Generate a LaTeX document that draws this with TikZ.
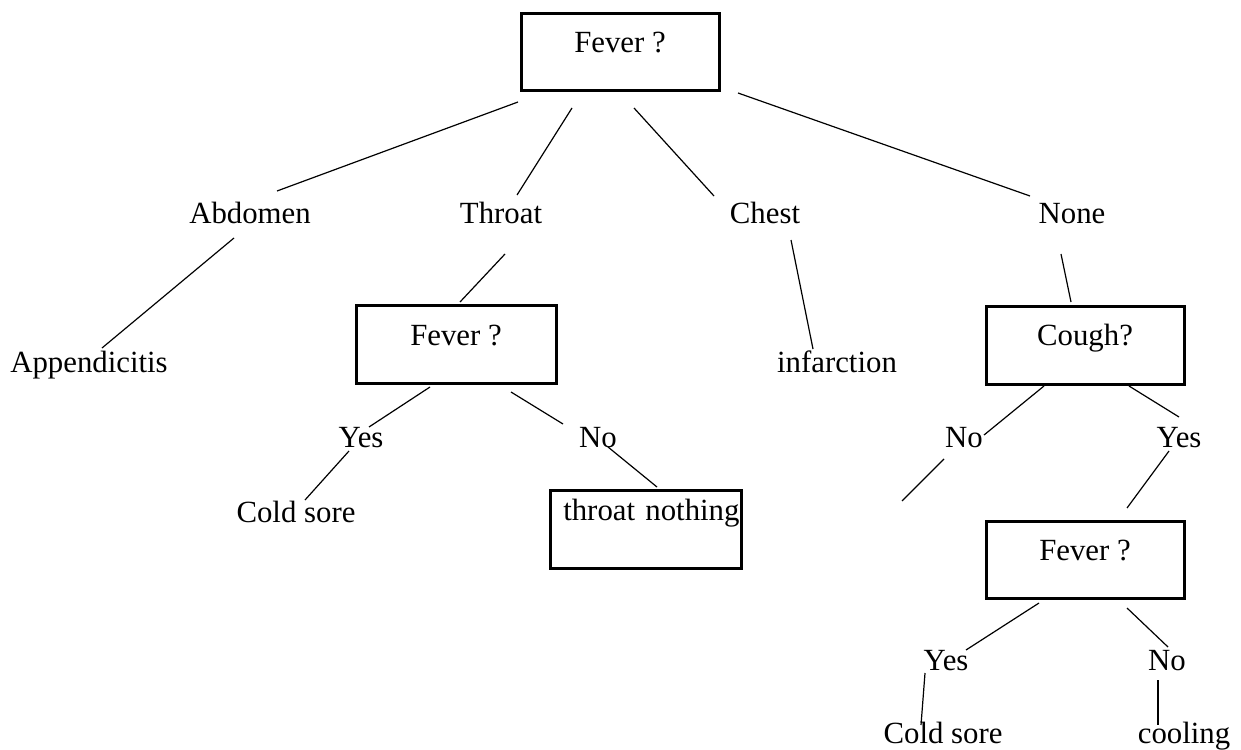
\documentclass[tikz,border=0pt]{standalone}
\usepackage{fontspec}
\setmainfont{Liberation Serif}
\begin{document}
\begin{tikzpicture}[x=0.5pt,y=-0.5pt,
  every node/.style={font=\fontsize{15.4}{18}\selectfont, inner sep=0pt},
  lbl/.style={anchor=base},
  qbox/.style={draw, line width=1.5pt, anchor=base, minimum width=99pt, text height=19.5pt, text depth=19pt},
  conn/.style={line width=0.6pt}]
\path[use as bounding box] (0,0) rectangle (1241,749);
% nodes
\node[qbox] (q1) at (620,53) {Fever ?};
\node[lbl] (abd) at (250,223) {Abdomen};
\node[lbl] (thr) at (501,223) {Throat};
\node[lbl] (che) at (765,223) {Chest};
\node[lbl] (non) at (1072,223) {None};
\node[lbl] (app) at (89,372) {Appendicitis};
\node[qbox, minimum width=100pt, text height=20pt] (q2) at (456,345) {Fever ?};
\node[lbl] (y2) at (361,447) {Yes};
\node[lbl] (n2) at (598,447) {No};
\node[lbl] (cs1) at (296,522) {Cold sore};
\node[qbox, minimum width=0pt, text width=94pt, align=right, inner xsep=0.75pt, text height=15pt, text depth=24pt] (tn) at (645.5,520) {throat nothing};
\node[lbl] (inf) at (837,372) {infarction};
\node[qbox, text depth=19.5pt] (q3) at (1085,345) {Cough?};
\node[lbl] (n3) at (964,447) {No};
\node[lbl] (y3) at (1179,447) {Yes};
\node[qbox] (q4) at (1085,560) {Fever ?};
\node[lbl] (y4) at (946,670) {Yes};
\node[lbl] (n4) at (1167,670) {No};
\node[lbl] (cs2) at (943,743) {Cold sore};
\node[lbl] (cool) at (1184,743) {cooling};
% connector end points
\foreach \n/\ax/\ay/\bx/\by in {
  1/518/102/277/191, 2/572/108/517/195, 3/634/108/714/196, 4/738/93/1030/196,
  5/234/238/102/348, 6/505/254/460/302, 7/430/387/369/427, 8/511/392/563/424,
  9/349/451/305/500, 10/608/447/657/487, 11/791/240/813/349, 12/1061/254/1071/302,
  13/1044/386/984/435, 14/1129/386/1179/417, 15/944/459/902/501, 16/1169/451/1127/508,
  17/1039/603/966/650, 18/1127/608/1168/647, 19/925/673/921/725, 20/1158/680/1158/725}{
  \coordinate (s\n) at (\ax,\ay);
  \coordinate (t\n) at (\bx,\by);
  \draw[conn] (s\n) -- (t\n);
}
\end{tikzpicture}
\end{document}
